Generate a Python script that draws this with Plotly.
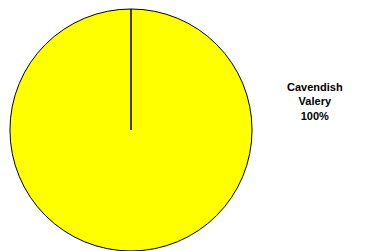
import plotly.graph_objects as go

labels = ["Cavendish Valery"]
values = [100]
colors = ["#FFFF00"]

W, H = 376, 251
OFF = 8  # page body margin offset
cx, cy, r = 131 - OFF, 130 - OFF, 121  # pie center/radius in px (figure coords)

fig = go.Figure(go.Pie(
    labels=labels, values=values, sort=False, direction="clockwise", rotation=0,
    marker=dict(colors=colors, line=dict(color="black", width=1)),
    textinfo="none", hoverinfo="label+percent",
    domain=dict(x=[(cx - r) / W, (cx + r) / W], y=[1 - (cy + r) / H, 1 - (cy - r) / H]),
    showlegend=False,
))

total = sum(values)
pct = [f"{round(v / total * 100)}%" for v in values]
label_text = "<br>".join(labels[0].split(" ") + [pct[0]])

fig.add_shape(type="line", xref="paper", yref="paper",
              x0=cx / W, y0=1 - cy / H, x1=cx / W, y1=1 - (cy - r) / H,
              line=dict(color="black", width=1.5))

fig.add_annotation(x=(315 - OFF) / W, y=1 - (101 - OFF) / H, xref="paper", yref="paper",
                   xanchor="center", yanchor="middle",
                   text=f"<b>{label_text}</b>", showarrow=False,
                   font=dict(family="Liberation Sans, Arial", size=11, color="black"),
                   align="center")

fig.update_layout(width=W, height=H, margin=dict(l=0, r=0, t=0, b=0),
                  paper_bgcolor="white", plot_bgcolor="white")

fig.write_html("out.html")
